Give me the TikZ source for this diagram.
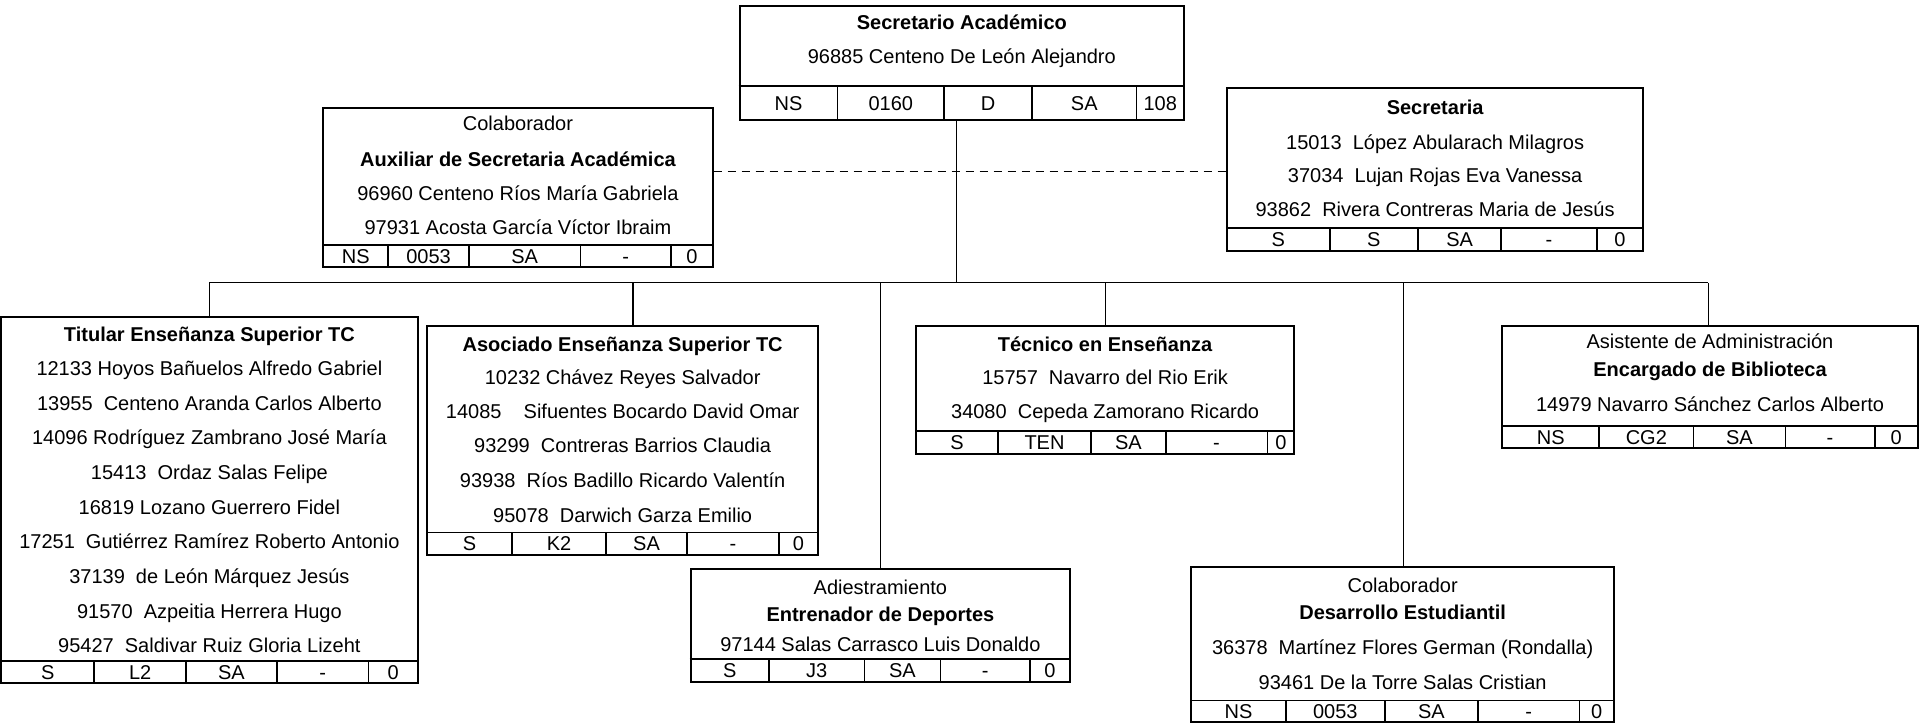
\documentclass[tikz,border=0pt]{standalone}
\usepackage{fontspec}
\setmainfont{Liberation Sans}
\usetikzlibrary{fit,calc}
\tikzset{
 box/.style={draw, line width=1pt, inner sep=0pt},
 grid/.style={line width=0.8pt},
 conn/.style={line width=0.6pt},
 dconn/.style={line width=0.8pt, dash pattern=on 4pt off 3pt},
 txt/.style={inner sep=0pt, text height=7.2pt, text depth=0pt, font=\fontsize{10}{12}\selectfont},
 bold/.style={txt, font=\fontsize{10}{12}\selectfont\bfseries},
 cell/.style={txt},
}
\newcommand\orgtable[5]{%
  \draw[grid] (#1.west |- 0,#2) -- (#1.east |- 0,#2);
  \foreach \s in {#4} \draw[grid] (\s,#2) -- (\s,#3);
  \foreach \x/\t [count=\i] in {#5} \node[cell] (#1-c\i) at (\x,{(#2+#3)/2}) {\t};
}
\begin{document}
\begin{tikzpicture}[x=0.61224pt, y=-0.61224pt]
\useasboundingbox (0,0) rectangle (1568,591);

% Secretario Academico
\node[box, fit={(604,5) (967,98)}] (sa) {};
\node[bold] (sa-l1) at (785.5,18) {Secretario Académico};
\node[txt] (sa-l2) at (785.5,46) {96885 Centeno De León Alejandro};
\orgtable{sa}{70}{98}{684,771,843,928}{644/NS,727.5/0160,807/D,885.5/SA,947.5/108}

% Auxiliar
\node[box, fit={(264,88) (582,218)}] (aux) {};
\node[txt] (aux-l1) at (423,101) {Colaborador};
\node[bold] (aux-l2) at (423,130) {Auxiliar de Secretaria Académica};
\node[txt] (aux-l3) at (423,158) {96960 Centeno Ríos María Gabriela};
\node[txt] (aux-l4) at (423,186) {97931 Acosta García Víctor Ibraim};
\orgtable{aux}{200}{218}{317,383,474,548}{290.5/NS,350/0053,428.5/SA,511/-,565/0}

% Secretaria
\node[box, fit={(1002,72) (1342,205)}] (sec) {};
\node[bold] (sec-l1) at (1172,88) {Secretaria};
\node[txt] (sec-l2) at (1172,116) {15013~ López Abularach Milagros};
\node[txt] (sec-l3) at (1172,143) {37034~ Lujan Rojas Eva Vanessa};
\node[txt] (sec-l4) at (1172,171) {93862~ Rivera Contreras Maria de Jesús};
\orgtable{sec}{186}{205}{1086,1158,1226,1304}{1044/S,1122/S,1192/SA,1265/-,1323/0}

% Titular
\node[box, fit={(1,259) (341,558)}] (tit) {};
\node[bold] (tit-l1) at (171,273) {Titular Enseñanza Superior TC};
\node[txt] (tit-l2) at (171,301) {12133 Hoyos Bañuelos Alfredo Gabriel};
\node[txt] (tit-l3) at (171,329) {13955~ Centeno Aranda Carlos Alberto};
\node[txt] (tit-l4) at (171,357) {14096 Rodríguez Zambrano José María};
\node[txt] (tit-l5) at (171,386) {15413~ Ordaz Salas Felipe};
\node[txt] (tit-l6) at (171,414) {16819 Lozano Guerrero Fidel};
\node[txt] (tit-l7) at (171,442) {17251~ Gutiérrez Ramírez Roberto Antonio};
\node[txt] (tit-l8) at (171,471) {37139~ de León Márquez Jesús};
\node[txt] (tit-l9) at (171,499) {91570~ Azpeitia Herrera Hugo};
\node[txt] (tit-l10) at (171,527) {95427~ Saldivar Ruiz Gloria Lizeht};
\orgtable{tit}{540}{558}{77,152,226,301}{39/S,114.5/L2,189/SA,263.5/-,321/0}

% Asociado
\node[box, fit={(349,266) (668,453)}] (aso) {};
\node[bold] (aso-l1) at (508.5,281) {Asociado Enseñanza Superior TC};
\node[txt] (aso-l2) at (508.5,308) {10232 Chávez Reyes Salvador};
\node[txt] (aso-l3) at (508.5,336) {14085~ ~ Sifuentes Bocardo David Omar};
\node[txt] (aso-l4) at (508.5,364) {93299~ Contreras Barrios Claudia};
\node[txt] (aso-l5) at (508.5,392) {93938~ Ríos Badillo Ricardo Valentín};
\node[txt] (aso-l6) at (508.5,421) {95078~ Darwich Garza Emilio};
\orgtable{aso}{435}{453}{418,495,561,636}{383.5/S,456.5/K2,528/SA,598.5/-,652/0}

% Tecnico
\node[box, fit={(748,266) (1057,371)}] (tec) {};
\node[bold] (tec-l1) at (902.5,281) {Técnico en Enseñanza};
\node[txt] (tec-l2) at (902.5,308) {15757~ Navarro del Rio Erik};
\node[txt] (tec-l3) at (902.5,336) {34080~ Cepeda Zamorano Ricardo};
\orgtable{tec}{352}{371}{815,891,952,1035}{781.5/S,853/TEN,921.5/SA,993.5/-,1046/0}

% Asistente
\node[box, fit={(1227,266) (1566,366)}] (asi) {};
\node[txt] (asi-l1) at (1396.5,279) {Asistente de Administración};
\node[bold] (asi-l2) at (1396.5,302) {Encargado de Biblioteca};
\node[txt] (asi-l3) at (1396.5,330) {14979 Navarro Sánchez Carlos Alberto};
\orgtable{asi}{348}{366}{1306,1383,1458,1531}{1266.5/NS,1344.5/CG2,1420.5/SA,1494.5/-,1548.5/0}

% Adiestramiento
\node[box, fit={(564,465) (874,557)}] (adi) {};
\node[txt] (adi-l1) at (719,480) {Adiestramiento};
\node[bold] (adi-l2) at (719,502) {Entrenador de Deportes};
\node[txt] (adi-l3) at (719,526) {97144 Salas Carrasco Luis Donaldo};
\orgtable{adi}{538}{557}{628,706,768,841}{596/S,667/J3,737/SA,804.5/-,857.5/0}

% Desarrollo Estudiantil
\node[box, fit={(973,463) (1318,589.5)}] (des) {};
\node[txt] (des-l1) at (1145.5,478) {Colaborador};
\node[bold] (des-l2) at (1145.5,500) {Desarrollo Estudiantil};
\node[txt] (des-l3) at (1145.5,529) {36378~ Martínez Flores German (Rondalla)};
\node[txt] (des-l4) at (1145.5,557) {93461 De la Torre Salas Cristian};
\orgtable{des}{572}{589.5}{1050,1131,1207,1290}{1011.5/NS,1090.5/0053,1169/SA,1248.5/-,1304/0}

% connectors
\coordinate (bus) at (781,231);
\coordinate (b1) at (171,231);
\coordinate (b2) at (517,231);
\coordinate (b3) at (719,231);
\coordinate (b4) at (903,231);
\coordinate (b5) at (1146,231);
\coordinate (b6) at (1395,231);
\draw[conn] (sa.south -| bus) -- (bus);
\draw[conn] (b1) -- (b6);
\draw[conn] (b1) -- (tit.north -| b1);
\draw[conn] (b2) -- (aso.north -| b2);
\draw[conn] (b3) -- (adi.north -| b3);
\draw[conn] (b4) -- (tec.north -| b4);
\draw[conn] (b5) -- (des.north -| b5);
\draw[conn] (b6) -- (asi.north -| b6);
\draw[dconn] (aux.east |- 0,140) -- (sec.west |- 0,140);
\end{tikzpicture}
\end{document}
